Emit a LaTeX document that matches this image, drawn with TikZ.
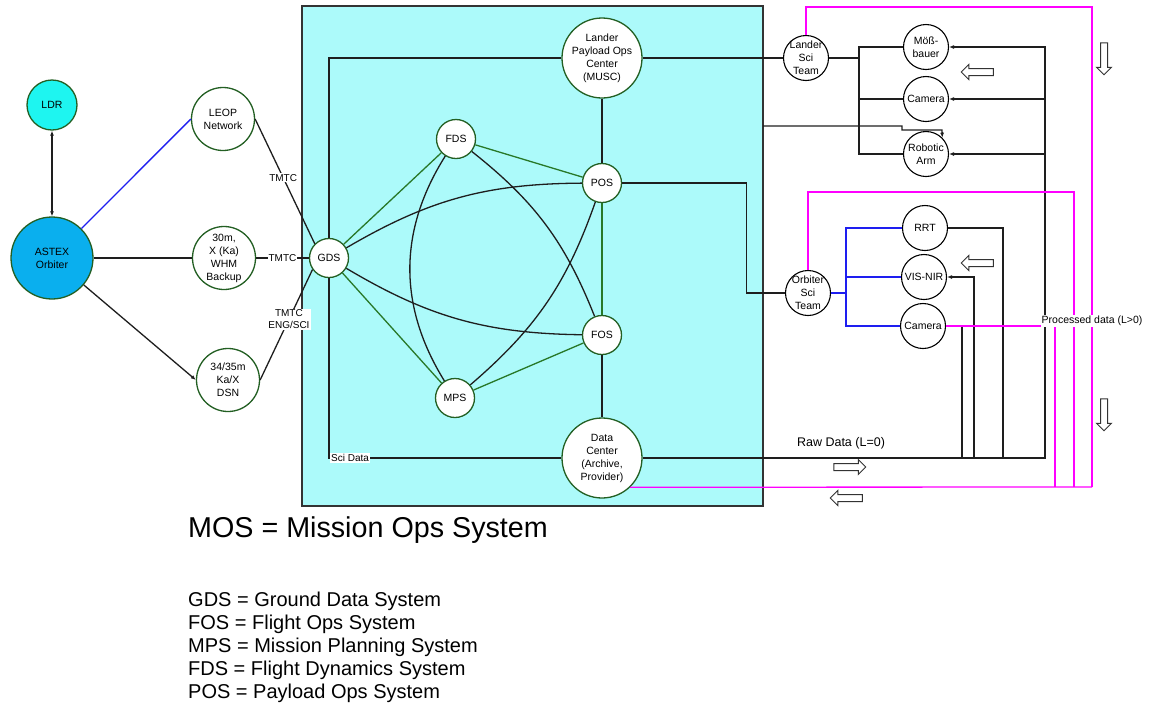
\documentclass[tikz,border=0pt]{standalone}
\usepackage{fontspec}
\setmainfont{Liberation Sans}
\usetikzlibrary{arrows.meta,shapes.arrows,calc}
\definecolor{nodegreen}{RGB}{35,95,35}
\definecolor{linegreen}{RGB}{40,120,40}
\definecolor{mosfill}{RGB}{172,250,250}
\definecolor{ldrcyan}{RGB}{30,245,240}
\definecolor{astexblue}{RGB}{10,175,238}
\definecolor{linkblue}{RGB}{30,30,240}
\definecolor{procmagenta}{RGB}{255,0,255}
\definecolor{linegray}{RGB}{30,30,30}
\tikzset{
  station/.style={
    circle,
    draw=nodegreen,
    line width=1.3pt,
    fill=white,
    inner sep=-2pt,
    align=center,
    font=\fontsize{10.5}{13}\selectfont
  },
  bigstation/.style={station, minimum size=80pt},
  midstation/.style={station, minimum size=63pt},
  smallstation/.style={station, minimum size=39pt},
  team/.style={
    circle,
    draw=black,
    line width=1.1pt,
    fill=white,
    inner sep=-4pt,
    minimum size=45pt,
    align=center,
    font=\fontsize{10.5}{13}\selectfont
  },
  mosbox/.style={draw=black!80, line width=1.4pt, fill=mosfill, inner sep=0pt},
  link/.style={line width=1.3pt, draw=linegray},
  greenlink/.style={line width=1.3pt, draw=linegreen},
  bluelink/.style={line width=1.3pt, draw=linkblue},
  datalink/.style={line width=1.3pt, draw=procmagenta},
  feed/.style={-{Latex[length=5pt,width=4pt]}},
  tag/.style={fill=white, inner sep=1pt, align=center, font=\fontsize{10}{12}\selectfont},
  flowarrow/.style={
    single arrow,
    draw=black!80,
    line width=1pt,
    fill=white,
    minimum height=32pt,
    inner sep=3pt,
    single arrow head extend=4pt
  },
}

\begin{document}
\begin{tikzpicture}[x=1pt, y=-1pt]
\useasboundingbox (0,0) rectangle (1150,705);

% Mission ops system box
\node[mosbox, minimum width=461pt, minimum height=500pt] (mos) at (532.5,256) {};

% Spacecraft and ground stations
\node[station, fill=ldrcyan, minimum size=50pt] (ldr) at (52,105) {LDR};
\node[station, fill=astexblue, minimum size=82pt] (astex) at (52,258) {ASTEX\\Orbiter};
\node[midstation] (leop) at (223,119) {LEOP\\Network};
\node[midstation] (whm) at (224,258) {30m,\\X (Ka)\\WHM\\Backup};
\node[midstation] (dsn) at (228,380) {34/35m\\Ka/X\\DSN};

\draw[link, {Latex[length=5pt,width=4pt]}-{Latex[length=5pt,width=4pt]}] (ldr) -- (astex);
\draw[bluelink] (astex) -- (leop.west);
\draw[link] (astex) -- (whm);
\draw[link, feed] (astex) -- (dsn.west);

% MOS nodes
\node[smallstation] (gds) at (329,258) {GDS};
\node[bigstation] (musc) at (602,58) {Lander\\Payload Ops\\Center\\(MUSC)};
\node[smallstation] (fds) at (456,139) {FDS};
\node[smallstation] (pos) at (602,183) {POS};
\node[smallstation] (fos) at (602,335) {FOS};
\node[smallstation] (mps) at (455,398) {MPS};
\node[bigstation] (dc) at (602,458) {Data\\Center\\(Archive,\\Provider)};

\draw[link] (leop.east) -- node[tag, pos=0.47] {TMTC} (gds.135);
\draw[link] (whm.east) -- node[tag] {TMTC} (gds.west);
\draw[link] (dsn.east) -- node[tag, pos=0.55] {TMTC\\ENG/SCI} (gds.215);

\draw[greenlink] (gds) -- (fds);
\draw[greenlink] (fds) -- (pos);
\draw[greenlink] (pos) -- (fos);
\draw[greenlink] (fos) -- (mps);
\draw[greenlink] (mps) -- (gds);

\draw[link] (gds) to[bend left=15] (pos);
\draw[link] (gds) to[bend right=15] (fos);
\draw[link] (fds) to[bend right=32] (mps);
\draw[link] (fds) to[bend left=15] (fos);
\draw[link] (pos) to[bend left=15] (mps);

\draw[link] (musc.west) -| (gds.north);
\draw[link] (musc) -- (pos);
\draw[link] (fos) -- (dc);
\draw[link] (gds.south) |- node[tag, pos=0.5, anchor=west, inner sep=1.5pt] {Sci Data} (dc.west);

% Lander science team and instruments
\node[team] (lst) at (806,58) {Lander\\Sci\\Team};
\node[team] (moss) at (926,47) {Möß-\\bauer};
\node[team] (lcam) at (926,99) {Camera};
\node[team] (arm) at (926,154) {Robotic\\Arm};
\coordinate (lbus) at (859,58);
\coordinate (armfeed) at (763,126);

\draw[link] (musc.east) -- (lst.west);
\draw[link] (lst.east) -- (lbus);
\draw[link] (moss.west) -| (lbus |- arm.west) -- (arm.west);
\draw[link] (lcam.west) -- (lcam.west -| lbus);
\draw[link, feed] (armfeed) -- (902,126) -- (902,130) -- (942,130) -- (arm.45);

% Orbiter science team and instruments
\node[team] (ost) at (808,293) {Orbiter\\Sci\\Team};
\node[team] (rrt) at (925,228) {RRT};
\node[team] (visnir) at (924,277) {VIS-NIR};
\node[team] (ocam) at (923,326) {Camera};
\coordinate (obus) at (846,293);

\draw[link] (pos.east) -- ++(124,0) |- (ost.west);
\draw[bluelink] (ost.east) -- (obus);
\draw[bluelink] (rrt.west) -| (obus |- ocam.west) -- (ocam.west);
\draw[bluelink] (visnir.west) -- (visnir.west -| obus);

% Raw data (L=0)
\coordinate (rawbus) at (1045,458);
\coordinate (rawrrt) at (1003,458);
\coordinate (rawvis) at (974,458);
\coordinate (rawcam) at (962,458);
\draw[link, feed] (dc.east) -- (rawbus) |- (moss.east);
\draw[link, feed] (rawbus |- lcam.east) -- (lcam.east);
\draw[link, feed] (rawbus |- arm.east) -- (arm.east);
\draw[link] (rrt.east) -| (rawrrt);
\draw[link, feed] (rawvis) |- (visnir.east);
\draw[link] (rawcam) -- (rawcam |- ocam.east);
\node[font=\fontsize{12.5}{15}\selectfont] (rawlbl) at (841,443) {Raw Data (L=0)};

% Processed data (L>0)
\coordinate (procA) at (1092,487);
\coordinate (procB) at (1074,487);
\coordinate (procC) at (1055,487);
\draw[datalink] (dc.-46) -- (procA);
\draw[datalink] (lst.north) -- ++(0,-28) -| (procA);
\draw[datalink] (ost.north) -- ++(0,-78) -| (procB);
\draw[datalink] (ocam.east) -| (procC);
\node[tag, font=\fontsize{10.5}{12}\selectfont] (proclbl) at (1092,321) {Processed data (L>0)};

% Flow direction arrows
\node[flowarrow, shape border rotate=180] (flowA) at (979,72) {};
\node[flowarrow, shape border rotate=180] (flowB) at (979,263) {};
\node[flowarrow, shape border rotate=270] (flowC) at (1104,57) {};
\node[flowarrow, shape border rotate=270] (flowD) at (1104,413) {};
\node[flowarrow] (flowE) at (848,467) {};
\node[flowarrow, shape border rotate=180] (flowF) at (848,498) {};

% Legend
\node[anchor=base west, inner sep=0pt, font=\fontsize{28.7}{34}\selectfont] (mosdef) at (188,537) {MOS = Mission Ops System};
\node[anchor=north west, inner sep=0pt, align=left, font=\fontsize{20}{23}\selectfont] (legend) at (188,592) {GDS = Ground Data System\\FOS = Flight Ops System\\MPS = Mission Planning System\\FDS = Flight Dynamics System\\POS = Payload Ops System};

\end{tikzpicture}
\end{document}
